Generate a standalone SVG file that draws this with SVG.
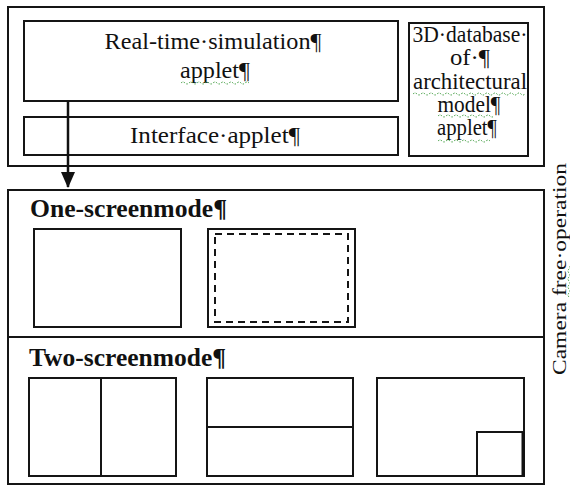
<svg xmlns="http://www.w3.org/2000/svg" width="570" height="486" viewBox="0 0 570 486">
  <style>
    .box { fill: #ffffff; stroke: #151515; stroke-width: 2; }
    .thin { fill: none; stroke: #151515; stroke-width: 2; }
    .dash { fill: none; stroke: #151515; stroke-width: 2; stroke-dasharray: 7 5; }
    .t { font-family: "Liberation Serif", "Times New Roman", serif; font-size: 23px; fill: #111111; }
    .b { font-family: "Liberation Serif", "Times New Roman", serif; font-size: 26px; font-weight: bold; fill: #111111; }
    .sq { fill: none; stroke: #3a9a3a; stroke-width: 1; stroke-dasharray: 1.5 1.5; }
  </style>
  <defs>
    <marker id="arrowhead" markerWidth="16" markerHeight="14" refX="15" refY="7" orient="auto" markerUnits="userSpaceOnUse" viewBox="0 0 16 14">
      <path d="M0,0 L16,7 L0,14 Z" fill="#111111"/>
    </marker>
  </defs>
  <rect x="0" y="0" width="570" height="486" fill="#ffffff"/>

  <!-- applet container -->
  <g id="applets">
    <rect class="box" x="8" y="7" width="536" height="159"/>
  </g>

  <g id="realtime-sim">
    <rect class="box" x="24" y="21" width="374" height="80"/>
    <text class="t" x="213" y="49" text-anchor="middle" textLength="217" lengthAdjust="spacingAndGlyphs">Real-time·simulation¶</text>
    <text class="t" x="215" y="78" text-anchor="middle" textLength="70" lengthAdjust="spacingAndGlyphs">applet¶</text>
    <path class="sq" d="M181,83 q2,-2 4,0 t4,0 t4,0 t4,0 t4,0 t4,0 t4,0 t4,0 t4,0 t4,0 t4,0 t4,0 t4,0 t4,0 t4,0 t4,0 t4,0"/>
  </g>

  <g id="interface">
    <rect class="box" x="24" y="117" width="374" height="38"/>
    <text class="t" x="215" y="143" text-anchor="middle" textLength="170" lengthAdjust="spacingAndGlyphs">Interface·applet¶</text>
  </g>

  <g id="database">
    <rect class="box" x="409" y="23" width="119" height="133"/>
    <text class="t" x="470" y="42" text-anchor="middle" textLength="115" lengthAdjust="spacingAndGlyphs">3D·database·</text>
    <text class="t" x="470" y="65" text-anchor="middle" textLength="40" lengthAdjust="spacingAndGlyphs">of·¶</text>
    <text class="t" x="470" y="89" text-anchor="middle" textLength="114" lengthAdjust="spacingAndGlyphs">architectural</text>
    <text class="t" x="469" y="112" text-anchor="middle" textLength="63" lengthAdjust="spacingAndGlyphs">model¶</text>
    <text class="t" x="467" y="135" text-anchor="middle" textLength="60" lengthAdjust="spacingAndGlyphs">applet¶</text>
    <path class="sq" d="M413,94 q2,-2 4,0 t4,0 t4,0 t4,0 t4,0 t4,0 t4,0 t4,0 t4,0 t4,0 t4,0 t4,0 t4,0 t4,0 t4,0 t4,0 t4,0 t4,0 t4,0 t4,0 t4,0 t4,0 t4,0 t4,0 t4,0 t4,0 t4,0 t4,0"/>
    <path class="sq" d="M438,116 q2,-2 4,0 t4,0 t4,0 t4,0 t4,0 t4,0 t4,0 t4,0 t4,0 t4,0 t4,0 t4,0 t4,0 t4,0"/>
    <path class="sq" d="M438,141 q2,-2 4,0 t4,0 t4,0 t4,0 t4,0 t4,0 t4,0 t4,0 t4,0 t4,0 t4,0 t4,0 t4,0"/>
  </g>

  <!-- display modes -->
  <g id="modes">
    <rect class="box" x="8" y="190" width="536" height="294"/>
    <line class="thin" x1="8" y1="337" x2="544" y2="337"/>
  </g>

  <g id="one-screen">
    <text class="b" x="30" y="217" textLength="197" lengthAdjust="spacingAndGlyphs">One-screenmode¶</text>
    <rect class="thin" x="34" y="229" width="147" height="98"/>
    <rect class="thin" x="208" y="229" width="147" height="98"/>
    <rect class="dash" x="215" y="234" width="133" height="88"/>
  </g>

  <g id="two-screen">
    <text class="b" x="29" y="366" textLength="197" lengthAdjust="spacingAndGlyphs">Two-screenmode¶</text>
    <rect class="thin" x="29" y="378" width="147" height="98"/>
    <line class="thin" x1="101" y1="378" x2="101" y2="476"/>
    <rect class="thin" x="207" y="378" width="146" height="98"/>
    <line class="thin" x1="207" y1="427" x2="353" y2="427"/>
    <rect class="thin" x="377" y="378" width="147" height="98"/>
    <rect class="thin" x="477" y="432" width="47" height="44"/>
    <line x1="523" y1="432" x2="523" y2="476" stroke="#111111" stroke-width="3"/>
  </g>

  <g id="camera-label">
    <text class="t" transform="translate(566,269) rotate(-90)" x="0" y="0" text-anchor="middle" font-size="19" style="font-size:19px" textLength="212" lengthAdjust="spacingAndGlyphs">Camera free·operation</text>
    <path class="sq" transform="translate(569,269) rotate(-90)" d="M-28,0 q2,-2 4,0 t4,0 t4,0 t4,0 t4,0 t4,0 t4,0 t4,0"/>
  </g>

  <!-- connectors -->
  <g id="connectors">
    <line x1="68" y1="101" x2="68" y2="187" stroke="#111111" stroke-width="2.5" marker-end="url(#arrowhead)"/>
  </g>
</svg>
